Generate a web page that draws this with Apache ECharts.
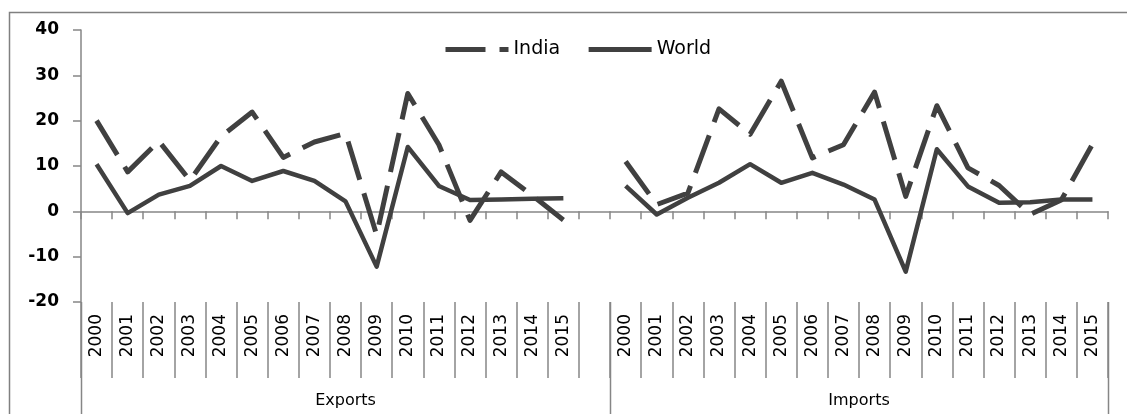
<!DOCTYPE html>
<html><head><meta charset="utf-8">
<script src="https://cdn.jsdelivr.net/npm/echarts@6/dist/echarts.min.js"></script>
<style>html,body{margin:0;padding:0;background:#fff}#c{width:1127px;height:414px}</style>
</head><body><div id="c"></div>
<script>
// ---- data ----
const years = ['2000','2001','2002','2003','2004','2005','2006','2007','2008','2009','2010','2011','2012','2013','2014','2015'];
const groups = ['Exports', 'Imports'];
const seriesNames = ['India', 'World'];
const indiaExports = [20.0, 8.7, 15.5, 6.8, 16.5, 21.9, 11.9, 15.3, 17.2, -5.2, 26.0, 14.7, -2.0, 8.7, 3.5, -1.9];
const worldExports = [10.4, -0.4, 3.7, 5.6, 10.0, 6.7, 8.9, 6.7, 2.2, -12.2, 14.2, 5.6, 2.5, 2.6, 2.8, 2.9];
const indiaImports = [11.0, 1.5, 4.0, 22.6, 17.0, 28.7, 11.8, 14.7, 26.3, 3.3, 23.3, 9.6, 5.7, -0.7, 2.5, 14.8];
const worldImports = [5.6, -0.7, 3.0, 6.3, 10.4, 6.3, 8.5, 5.9, 2.6, -13.3, 13.7, 5.5, 1.9, 2.0, 2.6, 2.6];
const yMin = -20, yMax = 40, yStep = 10;

// ---- build ----
const categories = [];
years.forEach(y => categories.push(groups[0] + ' ' + y));
categories.push('gap');
years.forEach(y => categories.push(groups[1] + ' ' + y));
const india = indiaExports.concat([null], indiaImports);
const world = worldExports.concat([null], worldImports);

const AX = '#868686', INK = '#404040', FONT = 'DejaVu Sans';
const chart = echarts.init(document.getElementById('c'), null, {renderer: 'canvas'});
const option = {
  backgroundColor: '#fff',
  animation: false,
  grid: {left: 81, right: 19, top: 30, bottom: 112, containLabel: false},
  legend: {
    data: [
      {name: seriesNames[0], lineStyle: {width: 5, type: [40, 14], cap: 'butt'}},
      {name: seriesNames[1], lineStyle: {width: 5, type: 'solid'}}
    ],
    left: 438, top: 35, itemWidth: 63, itemHeight: 14, itemGap: 26,
    itemStyle: {opacity: 0},
    textStyle: {fontSize: 19, fontFamily: FONT, color: '#000'}
  },
  xAxis: [{
    type: 'category', data: categories, boundaryGap: true, position: 'bottom',
    axisLine: {onZero: true, lineStyle: {color: AX, width: 1.5}},
    axisTick: {show: true, interval: 0, length: 8, lineStyle: {color: AX, width: 1.5}},
    axisLabel: {show: false}, splitLine: {show: false}
  }, {
    type: 'category', data: categories, boundaryGap: true, position: 'bottom',
    axisLine: {show: false, onZero: false},
    axisTick: {show: true, interval: 0, length: 76, lineStyle: {color: AX, width: 1.5}},
    axisLabel: {
      interval: 0, rotate: 90, margin: 12, fontSize: 17, fontFamily: FONT, color: '#000',
      formatter: v => v === 'gap' ? '' : v.split(' ')[1]
    },
    splitLine: {show: false}
  }],
  yAxis: {
    type: 'value', min: yMin, max: yMax, interval: yStep,
    axisLine: {show: true, lineStyle: {color: AX, width: 1.5}},
    axisTick: {show: true, length: 8, lineStyle: {color: AX, width: 1.5}},
    axisLabel: {margin: 22, fontSize: 17, fontWeight: 'bold', fontFamily: FONT, color: '#000'},
    splitLine: {show: false}
  },
  series: [{
    name: seriesNames[0], type: 'line', data: india, symbol: 'none', connectNulls: false,
    lineStyle: {color: INK, width: 5, type: [40, 14], cap: 'butt', join: 'round'},
    itemStyle: {color: INK}
  }, {
    name: seriesNames[1], type: 'line', data: world, symbol: 'none', connectNulls: false,
    lineStyle: {color: INK, width: 4.5, type: 'solid', join: 'round'},
    itemStyle: {color: INK}
  }]
};
chart.setOption(option);

// group brackets and labels placed through the axis scales
const px = i => chart.convertToPixel({xAxisIndex: 0}, categories[i]);
const half = (px(1) - px(0)) / 2;
const edge = i => (i < categories.length ? px(i) - half : px(categories.length - 1) + half);
const yBottom = chart.convertToPixel({yAxisIndex: 0}, yMin);
const splitIdx = [0, years.length + 1, categories.length];
const g = [{
  type: 'rect', silent: true, z: 0,
  shape: {x: 9.5, y: 12.5, width: 1300, height: 600},
  style: {fill: 'none', stroke: '#808080', lineWidth: 1.5}
}];
splitIdx.forEach(i => {
  const x = Math.round(edge(i)) + 0.5;
  g.push({type: 'line', silent: true, shape: {x1: x, y1: yBottom, x2: x, y2: 420},
          style: {stroke: AX, lineWidth: 1.5}});
});
groups.forEach((name, k) => {
  const cx = (edge(splitIdx[k]) + edge(splitIdx[k + 1])) / 2;
  g.push({type: 'text', silent: true, x: cx, y: 401,
          style: {text: name, fontSize: 16, fontFamily: FONT, fill: '#000', align: 'center', verticalAlign: 'middle'}});
});
chart.setOption({graphic: g});
</script></body></html>
